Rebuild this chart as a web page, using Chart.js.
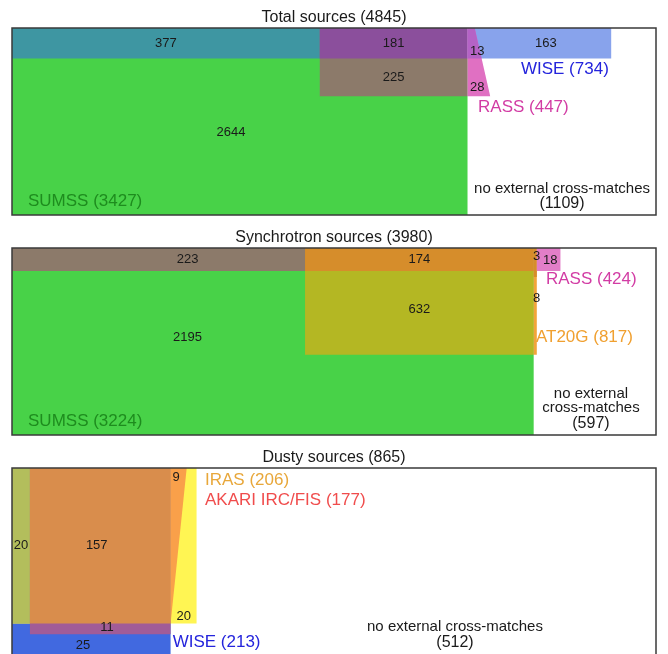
<!DOCTYPE html>
<html>
<head>
<meta charset="utf-8">
<title>External cross-matches</title>
<script src="https://cdn.jsdelivr.net/npm/chart.js@4.4.1/dist/chart.umd.min.js"></script>
<style>
  html, body { margin: 0; padding: 0; background: #fff; overflow: hidden; }
  canvas { display: block; }
</style>
</head>
<body>
<canvas id="total" width="668" height="220"></canvas>
<canvas id="synchrotron" width="668" height="220"></canvas>
<canvas id="dusty" width="668" height="220"></canvas>
<script>
(function () {
    'use strict';

    // total sources
    const totalN = 4845;
    const totalSets = ['SUMSS', 'WISE', 'RASS'];
    const totalSetSizes = [3427, 734, 447];
    // SUMSS+WISE, SUMSS+WISE+RASS, SUMSS+RASS, WISE+RASS, RASS, WISE, SUMSS, none
    const totalCounts = [377, 181, 225, 13, 28, 163, 2644, 1109];

    // synchrotron sources
    const syncN = 3980;
    const syncSets = ['SUMSS', 'RASS', 'AT20G'];
    const syncSetSizes = [3224, 424, 817];
    // SUMSS+RASS, SUMSS+RASS+AT20G, SUMSS+AT20G, RASS+AT20G, AT20G, RASS, SUMSS, none
    const syncCounts = [223, 174, 632, 3, 8, 18, 2195, 597];

    // dusty sources
    const dustyN = 865;
    const dustySets = ['IRAS', 'AKARI IRC/FIS', 'WISE'];
    const dustySetSizes = [206, 177, 213];
    // IRAS+WISE, IRAS+AKARI+WISE, IRAS+AKARI, IRAS, AKARI+WISE, WISE, none
    const dustyCounts = [20, 157, 9, 20, 11, 25, 512];

    const FONT = '"Liberation Sans", Arial, Helvetica, sans-serif';
    const numColor = '#1a1a1a';

    function rect(x0, x1, y0, y1) {
        return [{x: x0, y: y0}, {x: x1, y: y0}, {x: x1, y: y1}, {x: x0, y: y1}, {x: x0, y: y0}];
    }
    function poly(pts) {
        const out = pts.map(function (p) { return {x: p[0], y: p[1]}; });
        out.push({x: pts[0][0], y: pts[0][1]});
        return out;
    }
    function lab(text, x, y, o) {
        o = o || {};
        return {text: String(text), x: x, y: y, size: o.size || 13, color: o.color || numColor, align: o.align || 'center'};
    }
    function setLabel(i, sets, sizes) { return sets[i] + ' (' + sizes[i] + ')'; }

    function panel(id, title, n, shapes, labels) {
        const framePlugin = {
            id: 'frame',
            afterDraw: function (chart) {
                const c = chart.ctx, a = chart.chartArea;
                c.save();
                c.strokeStyle = '#3a3a3a';
                c.lineWidth = 1.5;
                c.strokeRect(a.left, a.top, a.right - a.left, a.bottom - a.top);
                c.restore();
            }
        };
        const labelPlugin = {
            id: 'regionLabels',
            afterDatasetsDraw: function (chart) {
                const c = chart.ctx, xs = chart.scales.x, ys = chart.scales.y;
                c.save();
                c.textBaseline = 'middle';
                labels.forEach(function (l) {
                    c.font = l.size + 'px ' + FONT;
                    c.fillStyle = l.color;
                    c.textAlign = l.align;
                    c.fillText(l.text, xs.getPixelForValue(l.x), ys.getPixelForValue(l.y));
                });
                c.restore();
            }
        };
        new Chart(document.getElementById(id), {
            type: 'line',
            data: {
                datasets: shapes.map(function (s, i) {
                    return {
                        data: s.pts,
                        backgroundColor: s.color,
                        borderColor: 'rgba(0,0,0,0)',
                        borderWidth: 0,
                        fill: 'shape',
                        pointRadius: 0,
                        pointHoverRadius: 0,
                        order: shapes.length - i
                    };
                })
            },
            options: {
                responsive: false,
                animation: false,
                events: [],
                layout: {padding: {left: 12, right: 12, top: 0, bottom: 5}},
                plugins: {
                    legend: {display: false},
                    tooltip: {enabled: false},
                    title: {
                        display: true,
                        text: title,
                        color: '#1a1a1a',
                        font: {family: FONT, size: 16, weight: 'normal'},
                        padding: {top: 8, bottom: 0.8}
                    }
                },
                scales: {
                    x: {type: 'linear', min: 0, max: n, display: false},
                    y: {type: 'linear', min: 0, max: 1, display: false}
                }
            },
            plugins: [framePlugin, labelPlugin]
        });
    }

    // ---- panel 1: total ----
    (function () {
        const [sw, swr, sr, wr, r, w, s, none] = totalCounts;
        const S = totalSetSizes[0];
        const hW = (sw + swr) / S;            // WISE band height
        const xR = sw / hW;                   // RASS box left edge
        const hR = (swr + sr) / (S - xR);     // RASS box height
        // RASS sliver outside SUMSS: trapezoid, top width a, bottom width b
        const k = hW * hW / (2 * hR);
        const T = 2 * (wr + r) / hR;
        const a = (wr - T * k) / (hW - 2 * k);
        const b = T - a;
        const aMid = a + (b - a) * hW / hR;
        const xW = S + (wr + w) / hW;

        const shapes = [
            {pts: rect(0, S, 0, 1), color: '#48d248'},
            {pts: rect(0, S, 1 - hW, 1), color: '#3e96a2'},
            {pts: rect(xR, S, 1 - hR, 1), color: '#8c7a6a'},
            {pts: rect(xR, S, 1 - hW, 1), color: '#8b4f9c'},
            {pts: rect(S, xW, 1 - hW, 1), color: '#88a3ec'},
            {pts: poly([[S, 1], [S + a, 1], [S + b, 1 - hR], [S, 1 - hR]]), color: '#e070c2'},
            {pts: poly([[S, 1], [S + a, 1], [S + aMid, 1 - hW], [S, 1 - hW]]), color: '#b563c6'}
        ];
        const labels = [
            lab(sw, xR / 2, 1 - hW / 2),
            lab(swr, (xR + S) / 2, 1 - hW / 2),
            lab(sr, (xR + S) / 2, 1 - (hW + hR) / 2),
            lab(wr, S + 19, 0.874, {align: 'left'}),
            lab(r, S + 19, 0.684, {align: 'left'}),
            lab(w, 4017, 1 - hW / 2),
            lab(s, 1648, 0.439),
            lab(setLabel(1, totalSets, totalSetSizes), 3829, 0.78, {size: 17, color: '#2424dc', align: 'left'}),
            lab(setLabel(2, totalSets, totalSetSizes), 3506, 0.578, {size: 17, color: '#d23ca4', align: 'left'}),
            lab(setLabel(0, totalSets, totalSetSizes), 120, 0.072, {size: 17, color: '#1e8c1e', align: 'left'}),
            lab('no external cross-matches', 4138, 0.142, {size: 15}),
            lab('(' + none + ')', 4138, 0.059, {size: 16})
        ];
        panel('total', 'Total sources (' + totalN + ')', totalN, shapes, labels);
    })();

    // ---- panel 2: synchrotron ----
    (function () {
        const [sr, sra, sa, ra, a, r, s, none] = syncCounts;
        const S = syncSetSizes[0];
        const hR = (sr + sra) / S;            // RASS band height
        const xA = sr / hR;                   // AT20G box left edge
        const hA = (sra + sa) / (S - xA);     // AT20G box height
        const wA = (ra + a) / hA;             // AT20G sliver outside SUMSS
        const xR = S + wA + r / hR;

        const shapes = [
            {pts: rect(0, S, 0, 1), color: '#48d248'},
            {pts: rect(xA, S, 1 - hA, 1), color: '#b4b723'},
            {pts: rect(0, S, 1 - hR, 1), color: '#8c7a6a'},
            {pts: rect(xA, S, 1 - hR, 1), color: '#d68d2b'},
            {pts: rect(S, S + wA, 1 - hA, 1), color: '#f2a43a'},
            {pts: rect(S, S + wA, 1 - ra / wA, 1), color: '#d68d2b'},
            {pts: rect(S + wA, xR, 1 - hR, 1), color: '#e27ec8'}
        ];
        const labels = [
            lab(sr, 1085, 1 - hR / 2),
            lab(sra, (xA + S) / 2, 1 - hR / 2),
            lab(sa, (xA + S) / 2, 0.674),
            lab(ra, 3220, 0.955, {align: 'left'}),
            lab(r, 3282, 0.936, {align: 'left'}),
            lab(a, 3220, 0.733, {align: 'left'}),
            lab(s, 1085, 0.524),
            lab(setLabel(1, syncSets, syncSetSizes), 3300, 0.834, {size: 17, color: '#d23ca4', align: 'left'}),
            lab(setLabel(2, syncSets, syncSetSizes), 3238, 0.524, {size: 17, color: '#f0a030', align: 'left'}),
            lab(setLabel(0, syncSets, syncSetSizes), 99, 0.071, {size: 17, color: '#1e8c1e', align: 'left'}),
            lab('no external', 3578, 0.219, {size: 15}),
            lab('cross-matches', 3578, 0.144, {size: 15}),
            lab('(' + none + ')', 3578, 0.059, {size: 16})
        ];
        panel('synchrotron', 'Synchrotron sources (' + syncN + ')', syncN, shapes, labels);
    })();

    // ---- panel 3: dusty ----
    (function () {
        const [iw, iaw, ia, i, aw, w, none] = dustyCounts;
        const W = dustySetSizes[2];           // WISE spans full height
        const hI = (iw + iaw) / W;            // IRAS box height
        const xAk = iw / hI;                  // AKARI left edge
        const hAk = hI + aw / (W - xAk);      // AKARI box height
        const tri = 2 * ia / hI;              // AKARI wedge outside WISE
        const wI = dustySetSizes[0] / hI;     // IRAS box width

        const shapes = [
            {pts: rect(0, W, 0, 1), color: '#4169e0'},
            {pts: rect(0, wI, 1 - hI, 1), color: '#fff553'},
            {pts: rect(0, W, 1 - hI, 1), color: '#b3be5c'},
            {pts: rect(xAk, W, 1 - hAk, 1), color: '#a15c98'},
            {pts: rect(xAk, W, 1 - hI, 1), color: '#d98d4c'},
            {pts: poly([[W, 1], [W + tri, 1], [W, 1 - hI]]), color: '#f9a04a'}
        ];
        const labels = [
            lab(iw, xAk / 2, 0.584),
            lab(iaw, 113.8, 0.584),
            lab(ia, 220.3, 0.947),
            lab(i, 230.6, 0.205),
            lab(aw, 127.6, 0.146),
            lab(w, 95.4, 0.05),
            lab(setLabel(0, dustySets, dustySetSizes), 259.2, 0.936, {size: 17, color: '#e8a73a', align: 'left'}),
            lab(setLabel(1, dustySets, dustySetSizes), 259.2, 0.829, {size: 17, color: '#f04c4c', align: 'left'}),
            lab(setLabel(2, dustySets, dustySetSizes), 215.8, 0.07, {size: 17, color: '#2424dc', align: 'left'}),
            lab('no external cross-matches', 595, 0.15, {size: 15}),
            lab('(' + none + ')', 595, 0.064, {size: 16})
        ];
        panel('dusty', 'Dusty sources (' + dustyN + ')', dustyN, shapes, labels);
    })();
})();
</script>
</body>
</html>
